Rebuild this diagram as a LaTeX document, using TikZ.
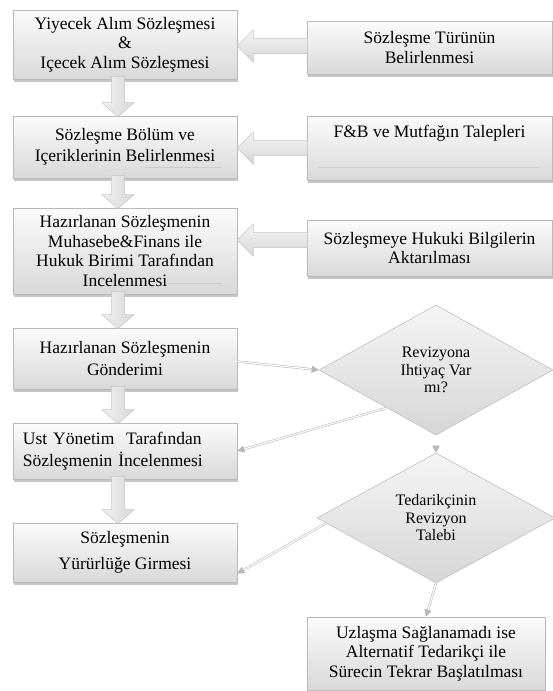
\documentclass[tikz,border=0pt]{standalone}
\usepackage{fontspec}
\setmainfont{Liberation Serif}
\newfontfamily\tnr{Liberation Serif}
\usetikzlibrary{shapes.geometric,shadows,arrows.meta,calc}
\newcommand\vblk[2]{\path[blk] let \p1=(#1.south), \p2=(#2.north) in
  ({\x1-13.5pt},{\y1+3pt}) -- ({\x1-0.5pt},{\y1+3pt}) -- ({\x1-0.5pt},{\y2+13pt}) -- ({\x1+9pt},{\y2+13pt}) --
  ({\x1-7pt},{\y2-1pt}) -- ({\x1-23pt},{\y2+13pt}) -- ({\x1-13.5pt},{\y2+13pt}) -- cycle;}
\newcommand\hblk[3]{\path[hblkst] let \p1=(#1.west), \p2=(#2.east) in
  ({\x1+1pt},{\y2+#3-7.5pt}) -- ({\x1+1pt},{\y2+#3+7.5pt}) -- ({\x2+16pt},{\y2+#3+7.5pt}) -- ({\x2+16pt},{\y2+#3+16pt}) --
  ({\x2},{\y2+#3}) -- ({\x2+16pt},{\y2+#3-16pt}) -- ({\x2+16pt},{\y2+#3-7.5pt}) -- cycle;}
\begin{document}
\begin{tikzpicture}[x=1pt,y=-1pt,
  box/.style={rectangle, draw=gray!55, line width=0.6pt, top color=gray!3, bottom color=gray!30,
    drop shadow={opacity=0.45, shadow xshift=0.8pt, shadow yshift=-2.5pt},
    inner sep=0pt, align=center, font=\tnr\fontsize{17.5}{19.5}\selectfont},
  dia/.style={diamond, draw=gray!50, line width=0.6pt, top color=gray!8, bottom color=gray!32,
    inner sep=0pt, align=center, font=\tnr\fontsize{16}{17.5}\selectfont},
  blk/.style={draw=gray!45, line width=0.5pt, left color=gray!12, right color=gray!30},
  hblkst/.style={draw=gray!45, line width=0.5pt, top color=gray!8, bottom color=gray!32},
  conn/.style={draw=gray!60, line width=0.5pt, double=white, double distance=1.2pt,
    -{Triangle[length=7pt,width=7pt,fill=gray!55]}},
  faint/.style={draw=gray!40, line width=0.6pt}
]
\useasboundingbox (0,0) rectangle (553,691);
% left column
\node[box, minimum width=224pt, minimum height=69pt] (b1) at (125,44.5)
  {Yiyecek Alım Sözleşmesi\\\&\\Içecek Alım Sözleşmesi};
\node[box, minimum width=224pt, minimum height=62pt] (b2) at (125,147)
  {Sözleşme Bölüm ve\\[2pt]Içeriklerinin Belirlenmesi};
\node[box, minimum width=224pt, minimum height=86pt] (b3) at (125,251)
  {Hazırlanan Sözleşmenin\\Muhasebe\&Finans ile\\Hukuk Birimi Tarafından\\Incelenmesi};
\node[box, minimum width=224pt, minimum height=61pt] (b4) at (125,358.5)
  {Hazırlanan Sözleşmenin\\[2pt]Gönderimi};
\node[box, minimum width=224pt, minimum height=56pt, text width=204pt, align=left] (b5) at (125,451)
  {Ust Yönetim\ \ Tarafından\\[3pt]Sözleşmenin İncelenmesi};
\node[box, minimum width=224pt, minimum height=59pt] (b6) at (125,552.5)
  {Sözleşmenin\\[7pt]Yürürlüğe Girmesi};
% right column
\node[box, minimum width=245pt, minimum height=53pt] (r1) at (429.5,47.5)
  {Sözleşme Türünün\\Belirlenmesi};
\node[box, minimum width=245pt, minimum height=64pt] (r2) at (429.5,148) {};
\node[font=\tnr\fontsize{17.5}{19.5}\selectfont, inner sep=0pt] (r2t) at (429.5,133) {F\&B ve Mutfağın Talepleri};
\node[box, minimum width=245pt, minimum height=56pt] (r3) at (429.5,248)
  {Sözleşmeye Hukuki Bilgilerin\\Aktarılması};
% diamonds
\node[dia, minimum width=234pt, minimum height=130pt] (d1) at (436,370)
  {Revizyona\\Ihtiyaç Var\\mı?};
\node[dia, minimum width=238pt, minimum height=130pt] (d2) at (436,518)
  {Tedarikçinin\\Revizyon\\Talebi};
\node[box, minimum width=238pt, minimum height=73pt] (b7) at (426,653.5)
  {Uzlaşma Sağlanamadı ise\\Alternatif Tedarikçi ile\\Sürecin Tekrar Başlatılması};
% faint artifact lines
\draw[faint] (145,167) -- (222,167);
\draw[faint] (168,283) -- (222,283);
\draw[faint] (319,167) -- (538,167);
% block arrows
\vblk{b1}{b2}
\vblk{b2}{b3}
\vblk{b3}{b4}
\vblk{b4}{b5}
\vblk{b5}{b6}
\hblk{r1}{b1}{-1.5pt}
\hblk{r2}{b2}{-1pt}
\hblk{r3}{b3}{11pt}
% connectors
\draw[conn] ([yshift=-3pt]b4.east) -- (d1.west);
\draw[conn] ($(d1.west)!0.58!(d1.south)$) -- (b5.east);
\draw[conn] ($(d2.west)!0.08!(d2.south)$) -- ([yshift=-21pt]b6.east);
\draw[conn] (d1.south) -- (d2.north);
\draw[conn] (d2.south) -- (b7.north);
\end{tikzpicture}
\end{document}
